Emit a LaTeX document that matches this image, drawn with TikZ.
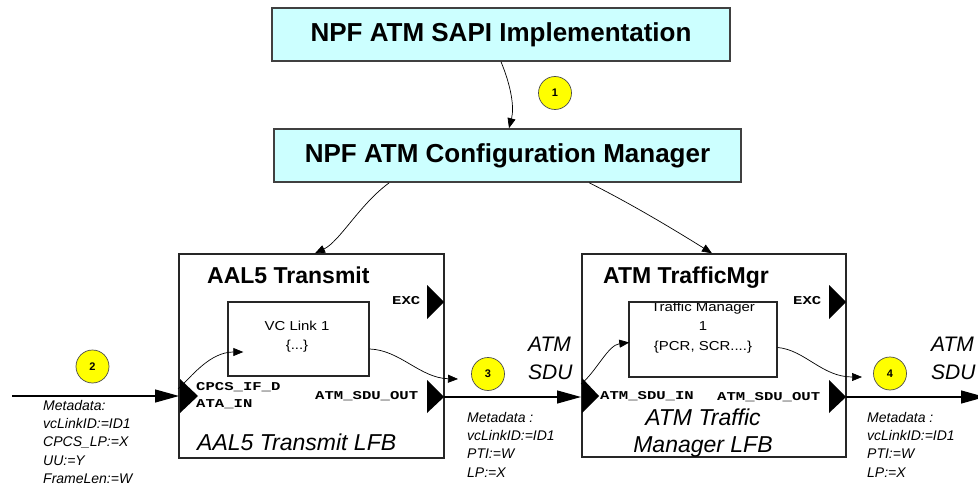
\documentclass[tikz,border=0pt]{standalone}
\usepackage{fontspec}
\setmainfont{Liberation Sans}
\newfontfamily\portfont[FakeStretch=1.3]{Liberation Mono}
\newfontfamily\innerfont[FakeStretch=1.15]{Liberation Sans}
\usetikzlibrary{arrows.meta}
\definecolor{boxcyan}{HTML}{CCFFFF}
\definecolor{markyellow}{HTML}{FFFF00}
\begin{document}
\begin{tikzpicture}[x=1pt,y=-1pt,
  sapibox/.style={draw=black!75,line width=1.6pt,fill=boxcyan,inner sep=0pt,font=\fontsize{26}{30}\selectfont\bfseries},
  lfbbox/.style={draw=black!85,line width=1.4pt,inner sep=0pt},
  innerbox/.style={draw=black!85,line width=1.4pt,inner sep=0pt},
  ctrl/.style={line width=0.7pt,-{Triangle[length=10pt,width=8pt]}},
  flow/.style={line width=1.2pt,-{Triangle[length=24pt,width=13pt]}},
  marker/.style={circle,draw=black!70,line width=0.7pt,fill=markyellow,minimum size=33pt,inner sep=0pt,font=\fontsize{11}{12}\selectfont\bfseries},
  title/.style={anchor=base west,inner sep=0pt,font=\fontsize{23}{26}\selectfont\bfseries},
  lfbname/.style={inner sep=0pt,font=\fontsize{23}{27}\selectfont\itshape,align=center},
  portlbl/.style={inner sep=0pt,align=left,font=\fontsize{12}{17}\selectfont\portfont\bfseries},
  meta/.style={anchor=north west,inner sep=0pt,align=left,font=\fontsize{14}{18.3}\selectfont\itshape},
  sdu/.style={anchor=north west,inner sep=0pt,align=left,font=\fontsize{21}{28}\selectfont\itshape},
  innertext/.style={inner sep=0pt,align=center,font=\fontsize{13}{19.5}\selectfont\innerfont}
]
\useasboundingbox (0,0) rectangle (978,492);
\fill[white] (0,0) rectangle (978,492);

% top boxes
\node[sapibox,minimum width=458pt,minimum height=53pt] (sapi) at (501,34.5) {NPF ATM SAPI Implementation};
\node[sapibox,minimum width=467pt,minimum height=53pt] (cfg) at (507.5,155.5) {NPF ATM Configuration Manager};
\node[marker] (m1) at (555,93) {1};

% LFB boxes
\node[lfbbox,minimum width=265pt,minimum height=204pt] (aal) at (311.5,356) {};
\node[lfbbox,minimum width=264pt,minimum height=203pt] (tm) at (714,355.5) {};
\node[innerbox,minimum width=141pt,minimum height=74pt] (vc) at (298.5,339) {};
\node[innerbox,minimum width=148pt,minimum height=75pt] (tmi) at (703,339.5) {};

% titles
\node[title] (aalt) at (207,283) {AAL5 Transmit};
\node[title] (tmt) at (603,283) {ATM TrafficMgr};
\node[innertext] (vct) at (297,336.5) {VC Link 1\\\{...\}};
\begin{scope}
  \clip (tmi.north west) rectangle (tmi.south east);
  \node[innertext] (tmit) at (703,327.5) {Traffic Manager\\1\\\{PCR, SCR....\}};
\end{scope}
\node[innerbox,minimum width=148pt,minimum height=75pt] at (703,339.5) {};
\node[lfbname,anchor=west] (aaln) at (197,442) {AAL5 Transmit LFB};
\node[lfbname] (tmn) at (703,433.5) {ATM Traffic\\Manager LFB};

% ports
\fill (180,379) -- (180,413) -- (198,396) -- cycle;
\fill (427,285) -- (427,319) -- (444,302) -- cycle;
\fill (427,380) -- (427,413) -- (444,397) -- cycle;
\fill (582,378) -- (582,413) -- (599,396) -- cycle;
\fill (829,285) -- (829,319) -- (846,302) -- cycle;
\fill (829,380) -- (829,413) -- (846,397) -- cycle;

% port labels
\node[portlbl,anchor=north west] (aalinl) at (196,382.5) {CPCS\_IF\_D\\ATA\_IN};
\node[portlbl,anchor=west] (aalexc) at (392,301) {EXC};
\node[portlbl,anchor=west] (aaloutl) at (315,396) {ATM\_SDU\_OUT};
\node[portlbl,anchor=west] (tminl) at (600,396) {ATM\_SDU\_IN};
\node[portlbl,anchor=west] (tmexc) at (793,301) {EXC};
\node[portlbl,anchor=west] (tmoutl) at (717,397) {ATM\_SDU\_OUT};

% coordinates for flows
\coordinate (src) at (12,396);
\coordinate (aalIn) at (179,396);
\coordinate (aalOut) at (444,397);
\coordinate (tmIn) at (581,397);
\coordinate (tmOut) at (846,397);
\coordinate (sink) at (985,397);

% control connectors
\draw[ctrl] (sapi.south) .. controls +(10,24) and +(5.5,-21) .. ([xshift=1.5pt]cfg.north);
\draw[ctrl] ([xshift=116pt]cfg.south west) .. controls +(-30,22) and +(25,-12) .. ([xshift=3.5pt]aal.north);
\draw[ctrl] ([xshift=316pt]cfg.south west) .. controls +(40,20) and +(-40,-25) .. ([xshift=-2pt]tm.north);

% inner connectors
\draw[ctrl] (178,389) .. controls (192,376) and (210,352) .. ([xshift=16pt,yshift=-13pt]vc.west);
\draw[ctrl] ([yshift=-10pt]vc.east) .. controls (400,350) and (420,378) .. (458,379);
\draw[ctrl] (581,384) .. controls (596,372) and (608,345) .. ([xshift=1pt,yshift=-3pt]tmi.west);
\draw[ctrl] ([yshift=-8pt]tmi.east) .. controls (805,350) and (822,377) .. (862,377);

% flows
\draw[flow] (src) -- (aalIn);
\draw[flow] (aalOut) -- (tmIn);
\draw[flow] (tmOut) -- (sink);

% markers
\node[marker] (m2) at (92.5,366.5) {2};
\node[marker] (m3) at (488,374) {3};
\node[marker] (m4) at (890,373.5) {4};

% ATM SDU labels
\node[sdu] (sdu1) at (528,337) {ATM\\SDU};
\node[sdu] (sdu2) at (931,337) {ATM\\SDU};

% metadata
\node[meta] (md1) at (43,400) {Metadata:\\vcLinkID:=ID1\\CPCS\_LP:=X\\UU:=Y\\FrameLen:=W};
\node[meta] (md2) at (467,412) {Metadata :\\vcLinkID:=ID1\\PTI:=W\\LP:=X};
\node[meta] (md3) at (867,412) {Metadata :\\vcLinkID:=ID1\\PTI:=W\\LP:=X};
\end{tikzpicture}
\end{document}
